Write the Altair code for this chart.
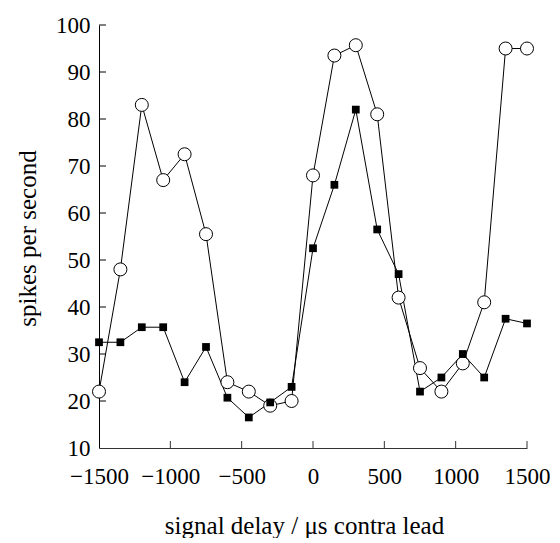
import altair as alt
import pandas as pd

# ---- data ----
delays = [-1500, -1350, -1200, -1050, -900, -750, -600, -450, -300, -150, 0,
          150, 300, 450, 600, 750, 900, 1050, 1200, 1350, 1500]
open_circles = [22, 48, 83, 67, 72.5, 55.5, 24, 22, 19, 20, 68,
                93.5, 95.7, 81, 42, 27, 22, 28, 41, 95, 95]
filled_squares = [32.5, 32.5, 35.7, 35.7, 24, 31.5, 20.7, 16.5, 19.7, 23, 52.5,
                  66, 82, 56.5, 47, 22, 25, 30, 25, 37.5, 36.5]
x_ticks = [-1500, -1000, -500, 0, 500, 1000, 1500]
y_ticks = [10, 20, 30, 40, 50, 60, 70, 80, 90, 100]

W, H = 428, 423
FONT = "Liberation Serif"

df = pd.DataFrame({
    "delay": delays * 2,
    "rate": open_circles + filled_squares,
    "series": ["open"] * len(delays) + ["filled"] * len(delays),
})
xt = pd.DataFrame({"delay": x_ticks[1:]})
yt = pd.DataFrame({"rate": y_ticks[1:]})

xs = alt.Scale(domain=[-1500, 1500], nice=False, zero=False)
ys = alt.Scale(domain=[10, 100], nice=False, zero=False)

xaxis = alt.Axis(values=x_ticks, format="d", title="signal delay / μs contra lead",
                 ticks=False, grid=False, labelPadding=35, labelBaseline="alphabetic",
                 labelFont=FONT, labelFontSize=23, labelColor="black",
                 labelFlush=False, labelOverlap=False,
                 domainColor="#333", domainWidth=1,
                 titleFont=FONT, titleFontSize=25, titleFontWeight="normal",
                 titleColor="black", titleX=205, titleY=85,
                 titleBaseline="alphabetic", titleAlign="center")
yaxis = alt.Axis(values=y_ticks, format="d", title="spikes per second", ticks=False,
                 grid=False, labelPadding=9, labelBaseline="middle",
                 labelFont=FONT, labelFontSize=23, labelColor="black",
                 labelFlush=False, labelOverlap=False,
                 domainColor="black", domainWidth=1,
                 titleFont=FONT, titleFontSize=25, titleFontWeight="normal",
                 titleColor="black", titleX=-64, titleY=213, titleAngle=270,
                 titleBaseline="alphabetic", titleAlign="center")

x_enc = alt.X("delay:Q", scale=xs, axis=xaxis)
y_enc = alt.Y("rate:Q", scale=ys, axis=yaxis)

base = alt.Chart(df)
lines = base.mark_line(color="black", strokeWidth=1).encode(
    x=x_enc, y=y_enc, detail="series:N")
circles = base.transform_filter(alt.datum.series == "open").mark_point(
    shape="circle", size=169, filled=True, fill="white", stroke="black",
    strokeWidth=1, opacity=1).encode(x=x_enc, y=y_enc)
squares = base.transform_filter(alt.datum.series == "filled").mark_point(
    shape="square", size=60, filled=True, color="black", opacity=1).encode(
    x=x_enc, y=y_enc)

xtick_marks = alt.Chart(xt).mark_rule(color="#333", strokeWidth=1).encode(
    x=x_enc, y=alt.value(H), y2=alt.value(H - 7))
ytick_marks = alt.Chart(yt).mark_rule(color="black", strokeWidth=1).encode(
    y=y_enc, x=alt.value(0), x2=alt.value(7))

chart = alt.layer(xtick_marks, ytick_marks, lines, circles, squares).properties(
    width=W, height=H,
    autosize=alt.AutoSizeParams(type="none"),
    padding={"left": 91, "top": 17, "right": 25, "bottom": 90},
).configure(background="white").configure_view(stroke=None)

chart.save("out.html", embed_options={"renderer": "svg", "actions": False})
